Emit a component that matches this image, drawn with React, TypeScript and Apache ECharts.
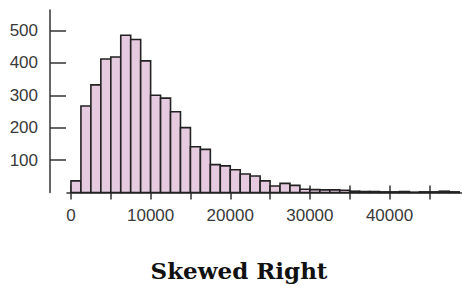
import React, { useEffect, useRef } from 'react';
import * as echarts from 'echarts';

const BIN_WIDTH = 1250;
// counts per bin of width 1250 starting at 0
const counts = [
  36, 267, 332, 412, 418, 485, 472, 406,
  300, 291, 249, 200, 141, 133, 86, 82,
  70, 57, 51, 36, 20, 28, 22, 10,
  9, 8, 8, 7,
  4, 3, 3, 2,
  2, 3, 1, 2,
  2, 4, 2,
];
const xTickValues = [0, 5000, 10000, 15000, 20000, 25000, 30000, 35000, 40000, 45000];
const xLabelValues = [0, 10000, 20000, 30000, 40000];
const yTickValues = [100, 200, 300, 400, 500];
const titleText = 'Skewed Right';

const FILL = '#e6cadf';
const STROKE = '#222222';
const AXIS = '#333333';
const LABEL_FONT = "'Liberation Sans', Arial, sans-serif";

export default function App() {
  const ref = useRef<HTMLDivElement>(null);
  useEffect(() => {
    if (!ref.current) return;
    const chart = echarts.init(ref.current, undefined, { renderer: 'svg' });
    const data = counts.map((c, i) => [i * BIN_WIDTH, (i + 1) * BIN_WIDTH, c]);
    chart.setOption({
      animation: false,
      backgroundColor: '#ffffff',
      grid: { left: 67, right: 0, top: 10, bottom: 95.5 },
      xAxis: [
        {
          type: 'value',
          min: -500,
          max: 49100,
          splitLine: { show: false },
          axisLine: { show: true, onZero: false, lineStyle: { color: AXIS, width: 1.5 } },
          axisTick: { show: true, inside: false, length: 7, customValues: xTickValues, lineStyle: { color: AXIS, width: 1.5 } },
          axisLabel: {
            show: true,
            customValues: xLabelValues,
            formatter: (v: number) => String(v),
            margin: 14,
            color: '#3a3a3a',
            fontSize: 17,
            fontFamily: LABEL_FONT,
          },
        },
        {
          type: 'value',
          min: -500,
          max: 49100,
          position: 'bottom',
          splitLine: { show: false },
          axisLine: { show: false, onZero: false },
          axisTick: { show: true, inside: true, length: 7, customValues: xTickValues, lineStyle: { color: AXIS, width: 1.5 } },
          axisLabel: { show: false },
        },
      ],
      yAxis: {
        type: 'value',
        min: 0,
        max: 563,
        offset: 17,
        splitLine: { show: false },
        axisLine: { show: true, onZero: false, lineStyle: { color: AXIS, width: 1.5 } },
        axisTick: { show: true, inside: true, length: 16, customValues: yTickValues, lineStyle: { color: AXIS, width: 1.5 } },
        axisLabel: {
          show: true,
          customValues: yTickValues,
          formatter: (v: number) => String(v),
          margin: 12,
          color: '#3a3a3a',
          fontSize: 17,
          fontFamily: LABEL_FONT,
        },
      },
      series: [
        {
          type: 'custom',
          xAxisIndex: 0,
          yAxisIndex: 0,
          encode: { x: [0, 1], y: 2 },
          data,
          renderItem: (params: any, api: any) => {
            const x0 = api.value(0);
            const x1 = api.value(1);
            const v = api.value(2);
            const p0 = api.coord([x0, v]);
            const p1 = api.coord([x1, 0]);
            return {
              type: 'rect',
              shape: { x: p0[0], y: p0[1], width: p1[0] - p0[0], height: p1[1] - p0[1] },
              style: { fill: FILL, stroke: STROKE, lineWidth: 1.6 },
            };
          },
        },
      ],
      graphic: [
        {
          type: 'text',
          x: 239,
          y: 270,
          style: {
            text: titleText,
            fill: '#111111',
            font: "bold 23px 'DejaVu Serif', serif",
            textAlign: 'center',
            textVerticalAlign: 'middle',
          },
        },
      ],
    });
    return () => chart.dispose();
  }, []);
  return <div ref={ref} style={{ position: 'absolute', left: 0, top: 0, width: 462, height: 288 }} />;
}
